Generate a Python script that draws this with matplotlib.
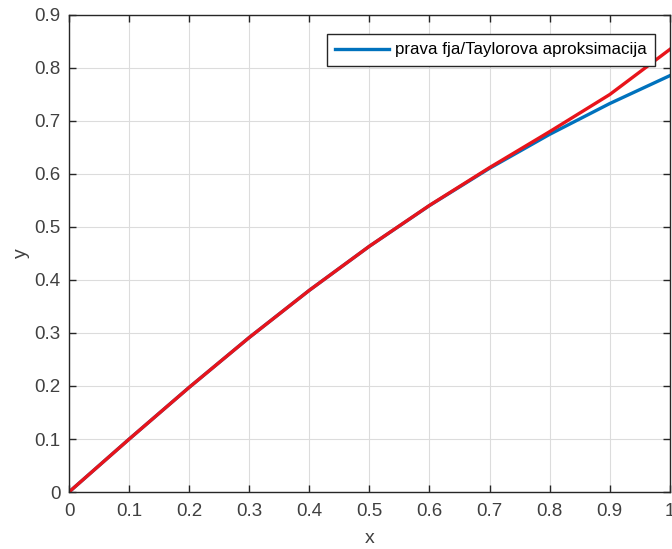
import matplotlib.pyplot as plt

plt.rcParams['font.family'] = ['Liberation Sans', 'DejaVu Sans']

# sample points and the two curves (exact arctan vs. its Taylor polynomial)
x = [0.0, 0.1, 0.2, 0.3, 0.4, 0.5, 0.6, 0.7, 0.8, 0.9, 1.0]
y_true = [0.0, 0.0997, 0.1974, 0.2915, 0.3805, 0.4636, 0.5404, 0.6107, 0.6747, 0.7328, 0.7854]
y_taylor = [0.0, 0.0997, 0.1974, 0.2915, 0.3805, 0.4637, 0.5407, 0.6120, 0.6798, 0.7498, 0.8349]

xticks = [0, 0.1, 0.2, 0.3, 0.4, 0.5, 0.6, 0.7, 0.8, 0.9, 1]
yticks = [0, 0.1, 0.2, 0.3, 0.4, 0.5, 0.6, 0.7, 0.8, 0.9]

fig = plt.figure(figsize=(6.72, 5.49), dpi=100)
ax = fig.add_axes([0.1027, 0.1038, 0.894, 0.869])

ax.plot(x, y_true, color='#0072BD', lw=2.4, label='prava fja/Taylorova aproksimacija')
ax.plot(x, y_taylor, color='#E8141B', lw=2.4)

ax.set_xlim(0, 1)
ax.set_ylim(0, 0.9)
ax.set_xticks(xticks)
ax.set_yticks(yticks)
ax.set_xticklabels(['0', '0.1', '0.2', '0.3', '0.4', '0.5', '0.6', '0.7', '0.8', '0.9', '1'])
ax.set_yticklabels(['0', '0.1', '0.2', '0.3', '0.4', '0.5', '0.6', '0.7', '0.8', '0.9'])

ax.grid(True, color='#dcdcdc', lw=0.8)
ax.set_axisbelow(True)
ax.tick_params(direction='in', top=True, right=True, length=5, width=1,
               labelsize=13.5, labelcolor='#404040', color='#262626')
ax.tick_params(axis='x', pad=8)
ax.tick_params(axis='y', pad=6)
for s in ax.spines.values():
    s.set_color('#262626')
    s.set_linewidth(1)

ax.set_xlabel('x', fontsize=14, color='#404040', labelpad=7)
ax.set_ylabel('y', fontsize=14, color='#404040', labelpad=3)

leg = ax.legend(loc='upper right', bbox_to_anchor=(0.975, 0.96), borderaxespad=0,
                fontsize=12.2, fancybox=False, framealpha=1, edgecolor='#262626',
                handlelength=3.2, borderpad=0.5, handletextpad=0.3)
leg.get_frame().set_linewidth(1)

fig.savefig('out.png', dpi=100)
